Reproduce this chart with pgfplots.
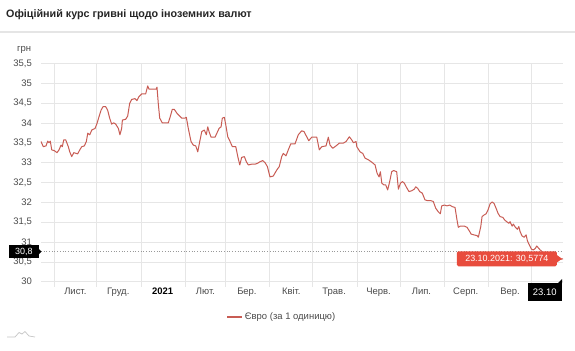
\documentclass[border=0pt]{standalone}
\usepackage{fontspec}
\setmainfont{Liberation Sans}
\usepackage{pgfplots}
\pgfplotsset{compat=1.18}
\definecolor{eur}{RGB}{200,92,84}
\definecolor{tip}{RGB}{232,76,61}
\definecolor{gridc}{RGB}{230,230,230}
\definecolor{lab}{RGB}{75,75,75}
\pgfplotstableread{
d v
0 33.53
1.6 33.40
3.5 33.42
4.7 33.54
5.6 33.50
6.5 33.54
7.5 33.32
9.3 33.30
11.2 33.25
12.6 33.32
14.0 33.44
14.9 33.40
15.9 33.57
17.3 33.57
19.1 33.40
20.1 33.27
21.5 33.15
22.9 33.25
24.7 33.23
25.7 33.22
27.1 33.32
28.5 33.40
30.3 33.42
31.7 33.53
32.7 33.74
34.1 33.70
35.5 33.82
37.8 33.86
39.2 33.99
40.6 34.16
42.0 34.32
43.4 34.41
45.2 34.41
46.6 34.32
48.0 34.12
49.4 33.97
50.8 34.00
52.2 33.97
54.1 33.86
55.2 33.70
56.4 33.86
56.9 34.07
59.2 34.09
60.6 34.17
62.0 34.49
63.4 34.59
65.7 34.61
67.1 34.56
68.5 34.66
70.4 34.73
73.2 34.73
74.6 34.93
75.5 34.85
77.8 34.85
80.6 34.85
81.1 34.90
82.0 34.49
83.0 34.12
84.8 34.00
89.0 34.00
90.4 34.16
91.8 34.34
93.2 34.34
95.1 34.24
97.0 34.17
98.4 34.12
100.7 34.12
101.6 34.14
103.0 33.86
104.9 33.53
106.5 33.44
108.2 33.42
109.6 33.27
111.0 33.53
112.4 33.78
114.2 33.82
115.6 33.70
116.6 33.90
117.5 33.78
118.9 33.64
121.7 33.64
123.1 33.75
124.5 33.86
125.9 33.90
126.8 34.12
128.2 34.14
129.2 33.95
130.6 33.65
132.2 33.53
133.8 33.40
136.2 33.40
137.6 33.15
139.0 32.94
140.3 33.13
142.2 33.15
143.6 33.02
145.0 32.94
147.3 32.96
149.7 32.96
151.3 32.98
153.1 33.02
155.0 33.05
156.6 33.00
158.3 32.90
160.1 32.64
162.4 32.66
164.8 32.81
166.6 32.90
168.3 33.15
169.4 33.23
171.3 33.17
172.9 33.32
174.6 33.47
177.6 33.47
179.9 33.70
182.3 33.80
183.9 33.78
185.8 33.65
187.2 33.55
189.3 33.64
192.8 33.64
194.6 33.32
196.3 33.40
199.3 33.42
200.9 33.64
202.1 33.44
204.0 33.36
206.3 33.42
208.6 33.49
211.4 33.49
213.3 33.53
215.6 33.65
217.3 33.57
218.4 33.50
220.3 33.53
220.8 33.40
223.1 33.27
225.0 33.23
226.6 33.11
228.9 33.07
231.3 33.01
233.6 32.94
235.0 32.73
236.4 32.64
237.3 32.77
238.3 32.48
239.7 32.44
241.0 32.44
242.4 32.31
243.8 32.52
245.2 32.77
246.6 32.80
248.7 32.77
249.9 32.33
251.3 32.48
252.7 32.52
254.1 32.48
255.5 32.38
257.3 32.27
259.2 32.29
261.0 32.33
262.0 32.39
263.4 32.35
264.8 32.27
266.6 32.23
268.5 32.06
270.4 32.04
272.7 32.04
274.3 32.02
276.0 31.85
277.8 31.76
279.2 31.71
280.2 31.91
282.0 31.93
283.9 31.91
285.8 31.93
287.6 31.89
289.5 31.87
290.9 31.55
291.8 31.37
293.2 31.40
296.0 31.40
297.9 31.37
299.8 31.26
300.7 31.20
302.6 31.18
304.9 31.16
305.8 31.12
307.5 31.39
308.4 31.64
309.8 31.68
311.2 31.71
312.6 31.81
314.0 31.96
315.4 32.01
316.8 31.97
318.2 31.85
319.6 31.72
321.0 31.64
322.9 31.62
324.3 31.55
325.7 31.51
327.1 31.47
328.0 31.51
329.4 31.40
330.3 31.45
331.7 31.37
333.1 31.32
334.1 31.39
335.0 31.26
336.4 31.15
337.8 31.12
339.2 31.18
340.1 31.03
341.5 30.92
342.9 30.82
344.3 30.80
345.7 30.84
346.6 30.90
349.0 30.80
352.4 30.70
355.9 30.62
359.4 30.60
362.9 30.56
365.0 30.5774
}\eurdata
\begin{document}
\begin{tikzpicture}[x=1bp,y=1bp]
\useasboundingbox (0,0) rectangle (575,350);
\fill[white] (0,0) rectangle (575,350);
\node[anchor=west, inner sep=0pt, font=\bfseries\fontsize{10.8}{13}\selectfont, text=black!85] at (6,335) {Офіційний курс гривні щодо іноземних валют};
\draw[gray!20, line width=1.2bp] (0,318) -- (575,318);
\node[anchor=west, inner sep=0pt, font=\fontsize{9.5}{11}\selectfont, text=lab] at (17,300) {грн};
\draw[gray!45, line width=0.7bp] (7,13)--(15,13)--(19,17.5)--(22,16)--(25,18.5)--(29,14)--(35,13);
\begin{axis}[
  at={(41bp,68.3bp)}, anchor=south west,
  scale only axis, width=522bp, height=218.4bp,
  xmin=0, xmax=365, ymin=30, ymax=35.5,
  clip=false,
  axis line style={draw=none},
  grid=major,
  grid style={gridc, line width=0.7bp},
  xtick={9,39,70,101,129,160,190,221,251,282,313,343},
  xticklabels={},
  xtick pos=bottom, tick align=outside,
  major tick length=5bp,
  xtick style={gridc, line width=0.7bp},
  ytick={30,30.5,31,31.5,32,32.5,33,33.5,34,34.5,35,35.5},
  ytick pos=left,
  ytick style={draw=none},
  /pgf/number format/assume math mode=true,
  /pgf/number format/use comma,
  yticklabel style={font=\fontsize{9.5}{11}\selectfont, text=lab, inner sep=0pt, xshift=-4bp},
  extra x ticks={24,54,85,115,144,175,205,236,266,297,328},
  extra x tick labels={Лист.,Груд.,\textcolor{black}{\bfseries 2021},Лют.,Бер.,Квіт.,Трав.,Черв.,Лип.,Серп.,Вер.},
  extra x tick style={grid=none, major tick length=0pt, tick style={draw=none},
    xticklabel style={font=\fontsize{9.5}{11}\selectfont, text=lab, inner sep=0pt, yshift=-6bp}},
  legend style={at={(0.4617,-0.1616)}, anchor=center, draw=none, fill=none,
    font=\fontsize{9.5}{11}\selectfont, text=lab, inner sep=0pt},
  legend image code/.code={\draw[eur, line width=1.1bp] (0bp,0bp) -- (15bp,0bp);},
]
\addplot[eur, line width=1bp, line join=round] table[x=d, y=v] {\eurdata};
\legend{Євро (за 1 одиницю)}
\draw[dotted, gray!80, line width=0.7bp] (axis cs:0,30.76) -- (axis cs:365,30.76);
\node[fill=black, text=white, minimum width=30bp, minimum height=13bp, inner sep=0pt,
  font=\fontsize{9}{10}\selectfont, anchor=east] at ([xshift=-2bp]axis cs:0,30.76) {30,8};
\fill[black] ([xshift=-2.5bp,yshift=3bp]axis cs:0,30.76) -- ([xshift=0.5bp]axis cs:0,30.76) -- ([xshift=-2.5bp,yshift=-3bp]axis cs:0,30.76) -- cycle;
\node[fill=tip, text=white, rounded corners=1.5bp, minimum width=100bp, minimum height=15bp, inner sep=0pt,
  font=\fontsize{9}{10}\selectfont, anchor=east] at ([xshift=-6bp]axis cs:365,30.5774) {23.10.2021: 30,5774};
\fill[tip] ([xshift=-6.5bp,yshift=4bp]axis cs:365,30.5774) -- ([xshift=-1bp]axis cs:365,30.5774) -- ([xshift=-6.5bp,yshift=-4bp]axis cs:365,30.5774) -- cycle;
\node[fill=black, text=white, minimum width=34bp, minimum height=18bp, inner sep=0pt,
  font=\fontsize{9.5}{11}\selectfont, anchor=north east] at ([xshift=-1bp,yshift=-1.3bp]axis cs:365,30) {23.10};
\fill[black] ([xshift=-5bp,yshift=-1.5bp]axis cs:365,30) -- ([xshift=-1bp,yshift=2.5bp]axis cs:365,30) -- ([xshift=-1bp,yshift=-1.5bp]axis cs:365,30) -- cycle;
\end{axis}
\end{tikzpicture}
\end{document}
